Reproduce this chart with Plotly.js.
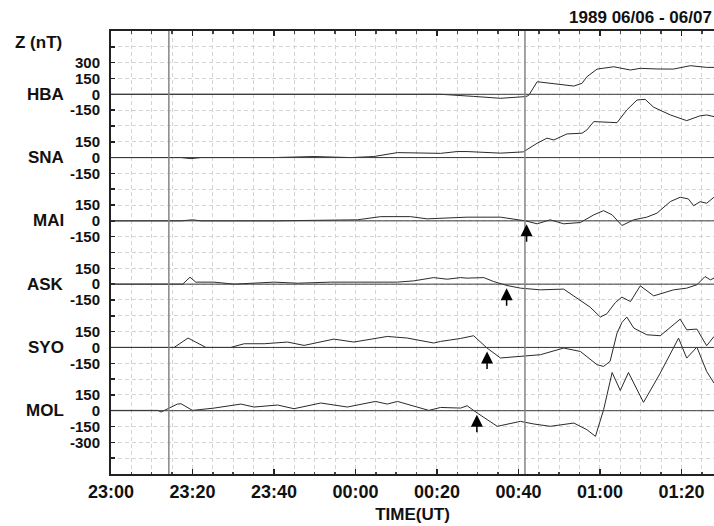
<!DOCTYPE html>
<html>
<head>
<meta charset="utf-8">
<script src="https://cdn.plot.ly/plotly-3.0.1.min.js"></script>
<style>html,body{margin:0;padding:0;background:#fff;}#chart{width:714px;height:526px;}</style>
</head>
<body>
<div id="chart"></div>
<script>
// ---- data (time = minutes after 1989-06-06 23:00 UT, Z in nT) ----
const stations = ['HBA', 'SNA', 'MAI', 'ASK', 'SYO', 'MOL'];

const hbaTime = [0, 20, 40, 60, 70, 80.9, 89.0, 95.6, 101.7, 102.5, 104.6, 107.8, 113.6, 115.6, 116.8, 119.3, 123.4, 127.5, 129.9, 134, 138.0, 142.2, 146.2, 148];
const hbaZ    = [0, 0, 0, 0, 0, 0, -20, -38, -22, -12, 119, 104, 78, 104, 166, 239, 261, 230, 246, 240, 239, 271, 255, 255];

const snaTime = [0, 17.2, 19.6, 22.1, 40, 49.8, 58.8, 64.5, 70.3, 75.2, 80.9, 85.0, 87.4, 95.6, 101.2, 104.6, 107.0, 108.7, 111.9, 115.6, 116.8, 118.5, 124.2, 126.6, 129.1, 131.1, 133.2, 137.3, 141.3, 144.5, 146.2, 148];
const snaZ    = [0, 0, -10, 0, 0, 10, 0, 10, 47, 47, 40, 57, 57, 42, 54, 136, 184, 167, 224, 231, 262, 341, 331, 451, 546, 552, 477, 404, 350, 395, 404, 388];

const maiTime = [0, 17.2, 20, 22.1, 40, 60.5, 66.2, 73.5, 77.6, 82.5, 85.0, 87.4, 95.6, 98.8, 101.7, 104.6, 107.8, 111.1, 115.2, 118.5, 120.9, 123.0, 125.4, 128.3, 131.5, 134.0, 137.3, 139.7, 141.7, 143.0, 144.6, 146.2, 148];
const maiZ    = [0, 0, 10, 0, 0, 10, 40, 40, 19, 25, 35, 35, 35, 19, 0, -28, 10, -28, -16, 57, 97, 57, -44, 10, 35, 73, 183, 224, 208, 144, 182, 167, 224];

const askTime = [0, 17.6, 19.4, 20.8, 25.3, 30.2, 40.0, 45.8, 53.9, 70.3, 74.3, 79.2, 82.5, 85.8, 87.4, 91.5, 93.9, 97.2, 100.5, 105.4, 111.1, 114.4, 117.6, 120.1, 121.7, 123.8, 125.4, 127.5, 129.9, 133.2, 138.1, 141.3, 143.8, 145.8, 147.1, 148];
const askZ    = [0, 0, 66, 19, 19, 0, 19, 9, 19, 19, 31, 62, 47, 62, 57, 62, 25, -13, -38, -54, -47, -132, -218, -312, -281, -174, -123, -165, -16, -111, -54, -38, -6, 72, 41, 57];

const syoTime = [0, 15.5, 18.9, 23.3, 29.4, 32.7, 37.6, 43.3, 47.4, 54.7, 59.6, 67.8, 72.7, 79.2, 80.9, 85.8, 89.0, 92.3, 95.6, 101.3, 105.4, 111.1, 115.2, 119.3, 120.9, 122.5, 124.2, 125.4, 126.6, 128.3, 131.5, 134.8, 139.7, 141.3, 143.8, 146.2, 148];
const syoZ    = [0, 0, 89, 0, 0, 35, 35, 51, 19, 79, 51, 104, 89, 42, 57, 85, 111, -6, -100, -79, -69, -6, -38, -164, -180, -132, 136, 237, 288, 184, 120, 111, 268, 167, 174, 16, 104];

const molTime = [0, 11.5, 12.3, 16.3, 17.2, 20.0, 25.3, 31.9, 35.1, 40.9, 44.9, 51.5, 58.0, 64.9, 67.8, 70.3, 78.0, 80.9, 85.8, 87.4, 89.9, 94.8, 100.5, 103.8, 107.8, 113.6, 116.8, 118.9, 120.9, 123.0, 125.0, 127.0, 130.7, 134.8, 139.3, 141.3, 143.8, 146.2, 148];
const molZ    = [3, 3, -12, 63, 66, 3, 25, 63, 35, 54, 19, 73, 35, 88, 63, 88, 3, 31, 25, 47, -22, -148, -101, -126, -148, -117, -180, -243, 9, 362, 192, 362, 79, 356, 688, 499, 603, 372, 262];

// labelled Z ticks per station
const tickLabels = {
  HBA: [300, 150, 0, -150],
  SNA: [150, 0, -150],
  MAI: [150, 0, -150],
  ASK: [150, 0, -150],
  SYO: [150, 0, -150],
  MOL: [150, 0, -150, -300]
};

// marker lines (minutes after 23:00) and onset arrows
const lineTimes = [14.2, 101.6];
const arrowStations = ['MAI', 'ASK', 'SYO', 'MOL'];
const arrowTimes = [102.0, 97.1, 92.3, 89.8];
const arrowZ = [-32, -38, -38, -38];

const xTitle = 'TIME(UT)';
const yTitle = 'Z (nT)';
const chartTitle = '1989 06/06 - 06/07';

// ---- construction ----
const seriesTime = [hbaTime, snaTime, maiTime, askTime, syoTime, molTime];
const seriesZ = [hbaZ, snaZ, maiZ, askZ, syoZ, molZ];
const SPACING = 600; // nT between station baselines
const offsetOf = {};
stations.forEach((s, i) => { offsetOf[s] = (stations.length - 1 - i) * SPACING; });

const base = Date.UTC(1989, 5, 6, 23, 0, 0);
function toTime(m) {
  return new Date(base + Math.round(m * 60000)).toISOString().replace('T', ' ').replace('Z', '');
}

const FONT = 'Liberation Sans, Arial, sans-serif';

const traces = stations.map((s, i) => ({
  type: 'scatter',
  mode: 'lines',
  x: seriesTime[i].map(toTime),
  y: seriesZ[i].map(v => v + offsetOf[s]),
  line: {color: '#2a2a2a', width: 1},
  hoverinfo: 'skip',
  showlegend: false
}));

// y ticks every 150 nT
const yMin = -SPACING, yMax = (stations.length - 1) * SPACING + SPACING;
const tickvals = [], ticktext = [];
for (let v = yMin + 150; v < yMax; v += 150) {
  tickvals.push(v);
  let label = '';
  stations.forEach(s => {
    tickLabels[s].forEach(t => { if (t + offsetOf[s] === v) label = String(t); });
  });
  ticktext.push(label);
}

const shapes = [];
stations.forEach(s => {
  shapes.push({type: 'line', xref: 'paper', x0: 0, x1: 1, yref: 'y', y0: offsetOf[s], y1: offsetOf[s],
    line: {color: '#3a3a3a', width: 1}, layer: 'above'});
});
lineTimes.forEach(t => {
  shapes.push({type: 'line', xref: 'x', x0: toTime(t), x1: toTime(t), yref: 'paper', y0: 0, y1: 1,
    line: {color: '#858585', width: 1.5}, layer: 'above'});
});

const annotations = [];
stations.forEach(s => {
  annotations.push({xref: 'paper', x: -0.075, xanchor: 'right', yref: 'y', y: offsetOf[s], yanchor: 'middle',
    text: s, showarrow: false, font: {family: FONT, size: 17, weight: 'bold', color: '#111'}});
});
annotations.push({xref: 'paper', x: -0.1625, xanchor: 'left', yref: 'paper', y: 0.973, yanchor: 'middle',
  text: yTitle, showarrow: false, font: {family: FONT, size: 17, weight: 'bold', color: '#111'}});
arrowStations.forEach((s, i) => {
  annotations.push({xref: 'x', x: toTime(arrowTimes[i]), yref: 'y', y: arrowZ[i] + offsetOf[s],
    text: '', showarrow: true, ax: 0, ay: 19, arrowhead: 2, arrowsize: 1.6, arrowwidth: 1.5, arrowcolor: '#000', standoff: 0});
});

const layout = {
  width: 714, height: 526,
  margin: {l: 111, r: 0, t: 31, b: 52},
  paper_bgcolor: '#fff', plot_bgcolor: '#fff',
  font: {family: FONT, color: '#111'},
  title: {text: chartTitle, x: 0.997, xref: 'container', xanchor: 'right', y: 0.968, yref: 'container', yanchor: 'middle',
    font: {family: FONT, size: 17, weight: 'bold', color: '#111'}},
  xaxis: {
    type: 'date',
    range: [toTime(0), toTime(148)],
    tickformat: '%H:%M',
    dtick: 20 * 60000,
    tick0: toTime(0),
    ticks: 'inside', ticklen: 5, tickwidth: 1.5, tickcolor: '#222',
    showline: true, linecolor: '#222', linewidth: 2, mirror: 'ticks',
    showgrid: true, gridcolor: '#d4d4d4', griddash: '4px,3px', gridwidth: 1,
    minor: {dtick: 5 * 60000, tick0: toTime(0), ticks: 'inside', ticklen: 2.5, tickcolor: '#444',
      showgrid: true, gridcolor: '#d4d4d4', griddash: '4px,3px', gridwidth: 1},
    tickfont: {family: FONT, size: 18, weight: 'bold', color: '#111'},
    title: {text: xTitle, font: {family: FONT, size: 17, weight: 'bold', color: '#111'}, standoff: 8},
    zeroline: false, fixedrange: true
  },
  yaxis: {
    range: [yMin, yMax],
    tickmode: 'array', tickvals: tickvals, ticktext: ticktext,
    ticks: 'inside', ticklen: 4, tickwidth: 1.5, tickcolor: '#222',
    ticklabelstandoff: 6,
    showline: true, linecolor: '#222', linewidth: 2,
    showgrid: true, gridcolor: '#d4d4d4', griddash: '4px,3px', gridwidth: 1,
    tickfont: {family: FONT, size: 15, weight: 'bold', color: '#111'},
    zeroline: false, fixedrange: true
  },
  shapes: shapes,
  annotations: annotations,
  showlegend: false
};

Plotly.newPlot('chart', traces, layout, {displayModeBar: false, staticPlot: true});
</script>
</body>
</html>
